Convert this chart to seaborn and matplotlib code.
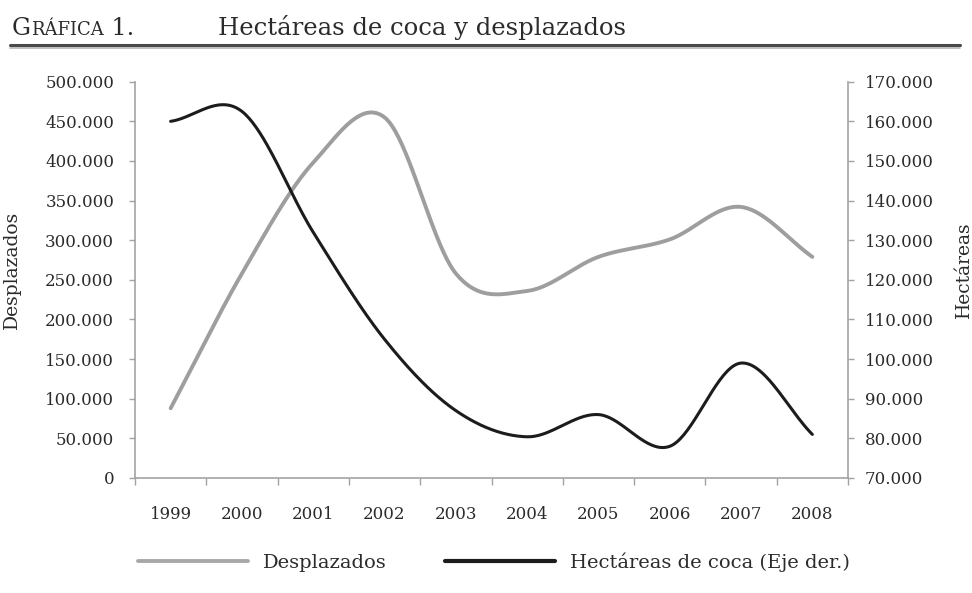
import numpy as np
import pandas as pd
import matplotlib
matplotlib.use('Agg')
import matplotlib.pyplot as plt
import seaborn as sns
from matplotlib.lines import Line2D

# Data
years = [1999, 2000, 2001, 2002, 2003, 2004, 2005, 2006, 2007, 2008]
desplazados = [88000, 258000, 398000, 455000, 258000, 236000, 279000, 301000, 342000, 279000]
hectareas = [160000, 162500, 132000, 105000, 87000, 80400, 86000, 78000, 99000, 81000]

left_ticks = list(range(0, 500001, 50000))
right_ticks = list(range(70000, 170001, 10000))

sns.set_style('ticks')
plt.rcParams['font.family'] = ['DejaVu Serif']

W, H = 972, 593


def smooth(vals, n=40):
    # Excel-like smoothed line (Catmull-Rom through the data points)
    p = np.asarray(vals, dtype=float)
    p = np.concatenate([[2 * p[0] - p[1]], p, [2 * p[-1] - p[-2]]])
    xs, ys = [], []
    for i in range(len(vals) - 1):
        t = np.linspace(0, 1, n, endpoint=False)
        p0, p1, p2, p3 = p[i:i + 4]
        ys.append(0.5 * (2 * p1 + (-p0 + p2) * t + (2 * p0 - 5 * p1 + 4 * p2 - p3) * t ** 2
                         + (-p0 + 3 * p1 - 3 * p2 + p3) * t ** 3))
        xs.append(i + t)
    xs.append([len(vals) - 1])
    ys.append([vals[-1]])
    return pd.DataFrame({'pos': np.concatenate(xs), 'valor': np.concatenate(ys)})


def miles(v):
    return f"{int(v):,}".replace(',', '.')


df_d = smooth(desplazados)
df_h = smooth(hectareas)

fig = plt.figure(figsize=(W / 100, H / 100), dpi=100)
ax = fig.add_axes([135 / W, 1 - 478 / H, (848 - 135) / W, (478 - 81.7) / H])
ax2 = ax.twinx()

gray = '#9e9e9e'
black = '#1c1c1c'
spine_c = '#a3a3a3'
txt_c = '#2b2b2b'

sns.lineplot(data=df_d, x='pos', y='valor', ax=ax, color=gray, lw=2.8, estimator=None)
sns.lineplot(data=df_h, x='pos', y='valor', ax=ax2, color=black, lw=2.2, estimator=None)

ax.set_xlim(-0.5, 9.5)
ax.set_ylim(0, 500000)
ax2.set_ylim(70000, 170000)

ax.set_xticks(range(len(years)))
ax.set_xticklabels([str(y) for y in years])
ax.set_xticks(np.arange(-0.5, len(years), 1), minor=True)
ax.tick_params(axis='x', which='major', length=0, pad=20, labelsize=12, labelcolor=txt_c)
ax.tick_params(axis='x', which='minor', length=5, width=1, color=spine_c, direction='out')

ax.set_yticks(left_ticks)
ax.set_yticklabels([miles(v) for v in left_ticks])
ax.tick_params(axis='y', length=4, width=1, color=spine_c, pad=11, labelsize=12, labelcolor=txt_c)
ax2.set_yticks(right_ticks)
ax2.set_yticklabels([miles(v) for v in right_ticks])
ax2.tick_params(axis='y', length=4, width=1, color=spine_c, pad=8, labelsize=12, labelcolor=txt_c)

for a in (ax, ax2):
    a.set_xlabel('')
    a.spines['top'].set_visible(False)
    for s in a.spines.values():
        s.set_color(spine_c)
        s.set_linewidth(1.2)
ax.spines['right'].set_visible(False)
ax2.spines['left'].set_visible(False)
ax2.spines['bottom'].set_visible(False)

ax.set_ylabel('Desplazados', fontsize=13.5, color=txt_c)
ax.yaxis.set_label_coords(-0.160, 0.525)
ax2.set_ylabel('Hectáreas', fontsize=13.5, color=txt_c)
ax2.yaxis.set_label_coords(1.150, 0.525)

# legend
handles = [Line2D([], [], color='#a8a8a8', lw=2.8), Line2D([], [], color=black, lw=3)]
fig.legend(handles, ['Desplazados', 'Hectáreas de coca (Eje der.)'], loc='center',
           bbox_to_anchor=(494 / W, 1 - 562 / H), ncol=2, frameon=False, fontsize=14,
           handlelength=5.65, handletextpad=0.77, columnspacing=3.0, labelcolor=txt_c)

# title with small caps label
r = fig.canvas.get_renderer()
base_y = 1 - 35 / H
t1 = fig.text(12 / W, base_y, 'G', fontsize=17, va='baseline', color=txt_c)
bb = t1.get_window_extent(r)
t2 = fig.text(bb.x1 / W, base_y, 'RÁFICA', fontsize=13, va='baseline', color=txt_c)
bb = t2.get_window_extent(r)
fig.text(bb.x1 / W, base_y, ' 1.', fontsize=17, va='baseline', color=txt_c)
fig.text(218 / W, base_y, 'Hectáreas de coca y desplazados', fontsize=17.5, va='baseline', color=txt_c)

fig.add_artist(Line2D([10 / W, 960 / W], [1 - 45 / H] * 2, color='#4a4a4a', lw=2.2))
fig.add_artist(Line2D([10 / W, 960 / W], [1 - 47.5 / H] * 2, color='#b5b5b5', lw=1.2))

fig.savefig('out.png', dpi=100)
